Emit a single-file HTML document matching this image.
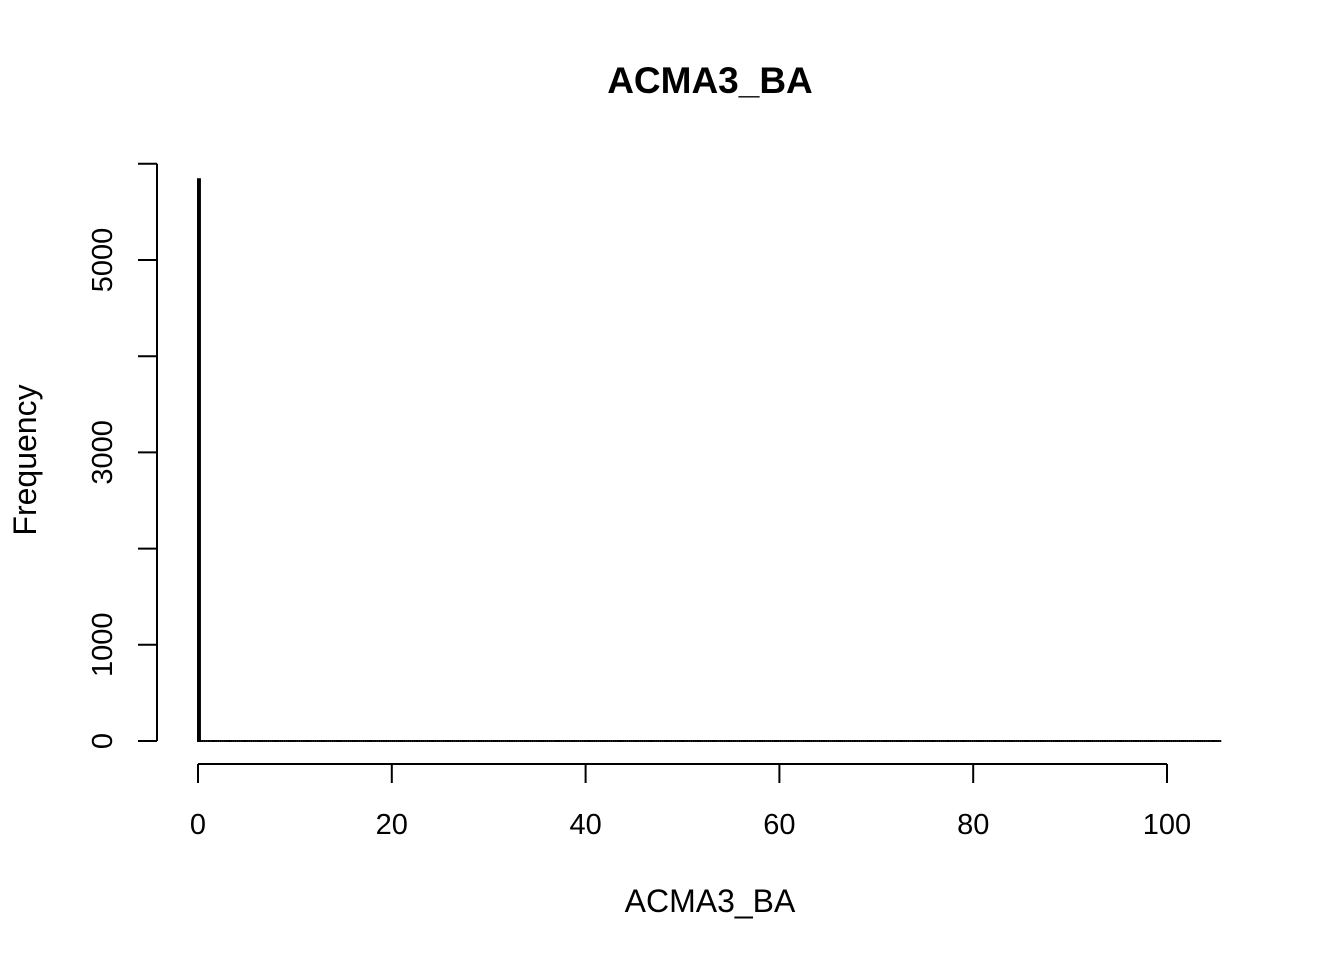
<!DOCTYPE html>
<html><head><meta charset="utf-8"><style>body{margin:0;background:#fff}svg text{font-family:"Liberation Sans",Arial,sans-serif}</style></head>
<body>
<svg id="chart" width="1344" height="960" xmlns="http://www.w3.org/2000/svg">
<text x="710" y="93" text-anchor="middle" font-size="37" font-weight="bold">ACMA3_BA</text>
<text x="710" y="912" text-anchor="middle" font-size="32">ACMA3_BA</text>
<text transform="translate(36,460) rotate(-90)" text-anchor="middle" font-size="32">Frequency</text>
<g id="bars"></g><g id="xaxis"></g><g id="yaxis"></g>
</svg>
<script>
const binStart = 0, binWidth = 0.2, binCount = 528;
const counts = [5840];
const xTicks = [0,20,40,60,80,100];
const yTicks = [0,1000,2000,3000,4000,5000,6000];
const yLabels = ["0","1000","","3000","","5000",""];
const NS="http://www.w3.org/2000/svg";
const xs = v => 198 + v*9.69;
const ys = v => 741 - v*0.0962;
function mk(t,a,p){const e=document.createElementNS(NS,t);for(const k in a)e.setAttribute(k,a[k]);p.appendChild(e);return e;}
const bars=document.getElementById('bars');
for(let i=0;i<binCount;i++){
  const c=counts[i]||0;
  const x0=xs(binStart+i*binWidth), x1=xs(binStart+(i+1)*binWidth);
  const d = c>0 ? `M${x0},741V${ys(c)}H${x1}V741Z` : `M${x0},741H${x1}`;
  const r=mk('path',{d:d,fill:c>0?'#000':'none',stroke:'#000','stroke-width':2},bars);
  
  
}
const xa=document.getElementById('xaxis');
const xl=mk('line',{x1:xs(xTicks[0]),x2:xs(xTicks[xTicks.length-1]),y1:764,y2:764,stroke:'#000','stroke-width':2},xa);


xTicks.forEach(t=>{
  const l=mk('line',{x1:xs(t),x2:xs(t),y1:764,y2:783,stroke:'#000','stroke-width':2},xa);
  
  
  const tx=mk('text',{x:xs(t),y:834,'text-anchor':'middle','font-size':29},xa);tx.textContent=t;
  
  
});
const ya=document.getElementById('yaxis');
const yl=mk('line',{x1:157,x2:157,y1:ys(yTicks[0]),y2:ys(yTicks[yTicks.length-1]),stroke:'#000','stroke-width':2},ya);


yTicks.forEach((t,i)=>{
  const l=mk('line',{x1:138,x2:157,y1:ys(t),y2:ys(t),stroke:'#000','stroke-width':2},ya);
  
  
  if(yLabels[i]){
    const tx=mk('text',{transform:`translate(112,${ys(t)}) rotate(-90)`,'text-anchor':'middle','font-size':29},ya);tx.textContent=yLabels[i];
    
    
  }
});
</script>
</body></html>
